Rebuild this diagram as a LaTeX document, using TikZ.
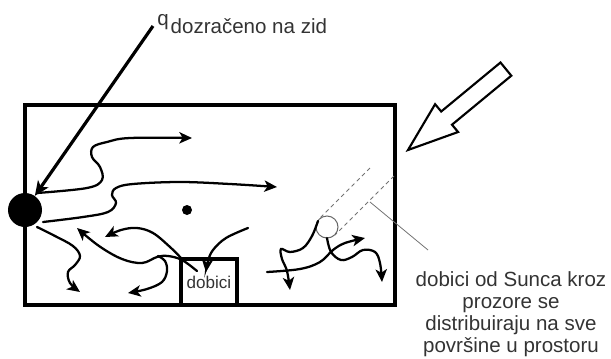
\documentclass[tikz,border=0pt]{standalone}
\usepackage{fontspec}
\setmainfont{Liberation Sans}
\usetikzlibrary{arrows.meta}
\begin{document}
\begin{tikzpicture}[x=0.75pt,y=-0.75pt,
  wave/.style={line width=1.7pt, -{Stealth[length=9.5pt,width=8.5pt,inset=2.5pt]}, line cap=round},
  txt/.style={text=black!80, font=\fontsize{15.4}{16.7}\selectfont, inner sep=0pt},
  thin gray/.style={draw=black!55, line width=0.6pt},
]
\useasboundingbox (0,0) rectangle (611,358);
% room
\node (room) [draw, line width=2.6pt, minimum width=277.5pt, minimum height=150pt, inner sep=0pt] at (210,205) {};
% gains box
\node (box) [draw, line width=2.6pt, minimum width=42pt, minimum height=34.5pt, inner sep=0pt,
  text=black!80, font=\fontsize{12.8}{14}\selectfont] at (209,282) {dobici};
% wall point
\node (wall) [circle, fill=black, minimum size=25.5pt, inner sep=0pt] at (25,210) {};
% room air point
\node (dot) [circle, fill=black, minimum size=7.5pt, inner sep=0pt] at (187,210) {};
% sun patch
\coordinate (d1a) at (370,168);
\coordinate (d1b) at (319,219);
\coordinate (d2a) at (394,176);
\coordinate (d2b) at (335,235);
\draw[thin gray, dash pattern=on 3pt off 2.5pt] (d1a) -- (d1b);
\draw[thin gray, dash pattern=on 3pt off 2.5pt] (d2a) -- (d2b);
\node (spot) [circle, draw=black!60, fill=white, line width=0.75pt, minimum size=16.5pt, inner sep=0pt] at (327,227) {};
% leader
\coordinate (lead1) at (370,202);
\coordinate (lead2) at (428,250);
\draw[thin gray] (lead1) -- (lead2);
% label q
\node (qlab) [txt, anchor=base west] at (157,25) {q\hspace{1.5pt}\raisebox{-6pt}{dozračeno na zid}};
\coordinate (qstart) at (153,26);
\draw[line width=2.4pt, -{Stealth[length=11pt,width=9.5pt,inset=3pt]}] (qstart) -- (wall);
% sun arrow (hollow)
\draw[line width=1.6pt, fill=white, line join=miter] (408,150) -- (435.1,104.2) -- (441.2,111.5) -- (500.5,62.5) -- (511.3,75.7) -- (452,124.7) -- (458.1,132) -- cycle;
% wavy arrows
\draw[wave] plot[smooth, tension=0.6] coordinates {(37,193) (87,188) (102,180) (100,167) (92,157) (93,147) (107,142) (130,138) (192,138)};
\draw[wave] plot[smooth, tension=0.6] coordinates {(43,222) (83,217) (108,212) (116,203) (112,195) (116,188) (133,184) (180,182) (230,184) (277,187)};
\draw[wave] plot[smooth, tension=0.6] coordinates {(37,227) (55,236) (73,246) (80,256) (75,265) (68,272) (70,283) (80,292)};
\draw[wave] plot[smooth, tension=0.6] coordinates {(197,271) (182,260) (168,256) (157,257) (142,263) (122,259) (99,246) (77,228)};
\draw[wave] plot[smooth, tension=0.6] coordinates {(182,259) (170,247) (153,233) (137,228) (121,230) (105,237)};
\draw[wave] plot[smooth, tension=0.6] coordinates {(158,256) (165,261) (167,271) (162,282) (147,289) (128,293)};
\draw[wave] plot[smooth, tension=0.6] coordinates {(248,228) (226,238) (213,250) (208,261) (206,272)};
\draw[wave] plot[smooth, tension=0.6] coordinates {(267,272) (300,269) (320,262) (333,250) (345,243) (365,238)};
\draw[wave] plot[smooth, tension=0.6] coordinates {(327,238) (331,252) (341,260) (352,257) (363,250) (375,252) (380,263) (382,282)};
\draw[wave] plot[smooth, tension=0.6] coordinates {(318,221) (312,236) (303,248) (290,252) (281,249) (282,259) (287,271) (290,290)};
% description
\node (desc) [txt, align=center, anchor=north] at (511,271) {dobici od Sunca kroz\\prozore se\\distribuiraju na sve\\površine u prostoru};
\end{tikzpicture}
\end{document}
